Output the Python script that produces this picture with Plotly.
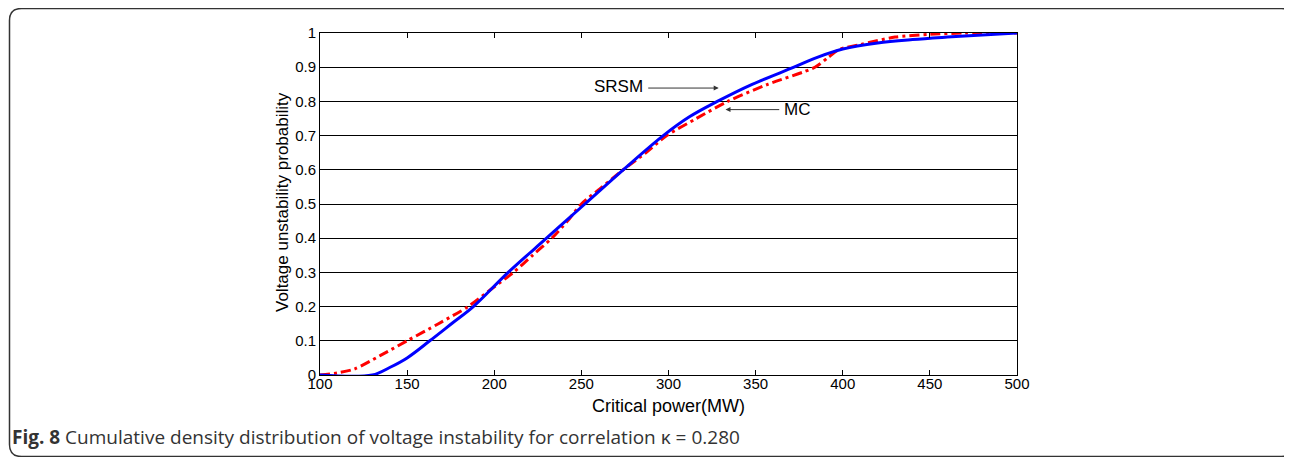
import plotly.graph_objects as go

# ---- data ----
srsm_x = [100, 130, 140, 150, 163, 176, 188, 208, 230, 252, 274, 297, 312, 328, 348, 372, 385, 400, 420, 440, 460, 480, 500]
srsm_y = [0, 0, 0.022, 0.05, 0.1, 0.152, 0.2, 0.3, 0.4, 0.5, 0.6, 0.7, 0.755, 0.8, 0.85, 0.9, 0.928, 0.953, 0.971, 0.981, 0.988, 0.994, 1.0]

mc_x = [100, 110, 120, 135, 150, 168, 185, 198, 211, 222, 233, 242, 250, 262, 274, 287, 299, 316, 334, 357, 384, 392, 398, 410, 430, 450, 470, 500]
mc_y = [0, 0.006, 0.018, 0.058, 0.1, 0.15, 0.2, 0.25, 0.3, 0.35, 0.4, 0.45, 0.5, 0.55, 0.6, 0.65, 0.7, 0.75, 0.8, 0.85, 0.9, 0.93, 0.952, 0.966, 0.988, 0.996, 1.0, 1.0]

x_ticks = [100, 150, 200, 250, 300, 350, 400, 450, 500]
y_ticks = [0, 0.1, 0.2, 0.3, 0.4, 0.5, 0.6, 0.7, 0.8, 0.9, 1]
y_tick_text = ["0", "0.1", "0.2", "0.3", "0.4", "0.5", "0.6", "0.7", "0.8", "0.9", "1"]

x_title = "Critical power(MW)"
y_title = "Voltage unstability probability"
caption = "<b>Fig. 8</b> Cumulative density distribution of voltage instability for correlation κ = 0.280"

OFF = 8  # default body margin of the html page
SW, SH = 1292, 457          # screen size
W, H = SW - OFF, SH - OFF   # figure size
# plot area in screen pixels: x 320..1017, y 33..375
L, R, T, B = 320 - OFF, SW - 1017, 33 - OFF, SH - 375
PW, PH = W - L - R, H - T - B

def px(xs):
    return (xs - OFF - L) / PW

def py(ys):
    return (H - B - (ys - OFF)) / PH

fig = go.Figure()
fig.add_trace(go.Scatter(x=mc_x, y=mc_y, mode="lines", name="MC",
                         line=dict(color="#ff0000", width=3, dash="10px,4px,3px,4px", shape="spline", smoothing=0.8)))
fig.add_trace(go.Scatter(x=srsm_x, y=srsm_y, mode="lines", name="SRSM",
                         line=dict(color="#0000ff", width=3, shape="spline", smoothing=1.0)))

axis_font = dict(family="Liberation Sans, Arial, sans-serif", size=15, color="#000")
fig.update_xaxes(range=[100, 500], tickvals=x_ticks, ticks="inside", ticklen=5, tickcolor="#000",
                 showline=True, linecolor="#000", linewidth=1, mirror="ticks", ticklabelstandoff=-5,
                 showgrid=False, zeroline=False, tickfont=axis_font)
fig.update_yaxes(range=[0, 1], tickvals=y_ticks, ticktext=y_tick_text, ticks="inside", ticklen=5, tickcolor="#000",
                 showline=True, linecolor="#000", linewidth=1, mirror="ticks",
                 showgrid=True, gridcolor="#000", gridwidth=1, zeroline=False, tickfont=axis_font)

ann_font = dict(family="Liberation Sans, Arial, sans-serif", size=17, color="#000")
annotations = [
    dict(x=px(668), y=py(406), xref="paper", yref="paper", text=x_title, showarrow=False,
         font=dict(family="Liberation Sans, Arial, sans-serif", size=18, color="#000"),
         xanchor="center", yanchor="middle"),
    dict(x=px(283), y=py(202), xref="paper", yref="paper", text=y_title, showarrow=False,
         textangle=-90, font=ann_font, xanchor="center", yanchor="middle"),
    # SRSM arrow
    dict(x=328.8, y=0.839, ax=287.5, ay=0.839, xref="x", yref="y", axref="x", ayref="y",
         text="", showarrow=True, arrowhead=2, arrowsize=1, arrowwidth=1, arrowcolor="#333", standoff=0),
    dict(x=286.6, y=0.843, xref="x", yref="y", text="SRSM", showarrow=False, font=ann_font,
         xanchor="right", yanchor="middle"),
    # MC arrow
    dict(x=332.7, y=0.776, ax=364.4, ay=0.776, xref="x", yref="y", axref="x", ayref="y",
         text="", showarrow=True, arrowhead=2, arrowsize=1, arrowwidth=1, arrowcolor="#333", standoff=0),
    dict(x=365.4, y=0.776, xref="x", yref="y", text="MC", showarrow=False, font=ann_font,
         xanchor="left", yanchor="middle"),
    # caption
    dict(x=px(10), y=py(437), xref="paper", yref="paper", text=caption, showarrow=False,
         font=dict(family="Open Sans, Noto Sans, sans-serif", size=19, color="#333333"),
         xanchor="left", yanchor="middle"),
]

# rounded frame around the figure (screen pixel corners)
x0, x1, y0, y1, r = 9.5, 1293.5, 8.5, 456.5, 12
path = (f"M {px(x0 + r)},{py(y0)} L {px(x1 - r)},{py(y0)} Q {px(x1)},{py(y0)} {px(x1)},{py(y0 + r)} "
        f"L {px(x1)},{py(y1 - r)} Q {px(x1)},{py(y1)} {px(x1 - r)},{py(y1)} "
        f"L {px(x0 + r)},{py(y1)} Q {px(x0)},{py(y1)} {px(x0)},{py(y1 - r)} "
        f"L {px(x0)},{py(y0 + r)} Q {px(x0)},{py(y0)} {px(x0 + r)},{py(y0)} Z")
shapes = [dict(type="path", xref="paper", yref="paper", path=path, line=dict(color="#333", width=1.5),
               fillcolor="rgba(0,0,0,0)", layer="below")]

fig.update_layout(width=W, height=H, margin=dict(l=L, r=R, t=T, b=B, autoexpand=False),
                  paper_bgcolor="#fff", plot_bgcolor="#fff", showlegend=False,
                  annotations=annotations, shapes=shapes)

fig.write_html("out.html")
